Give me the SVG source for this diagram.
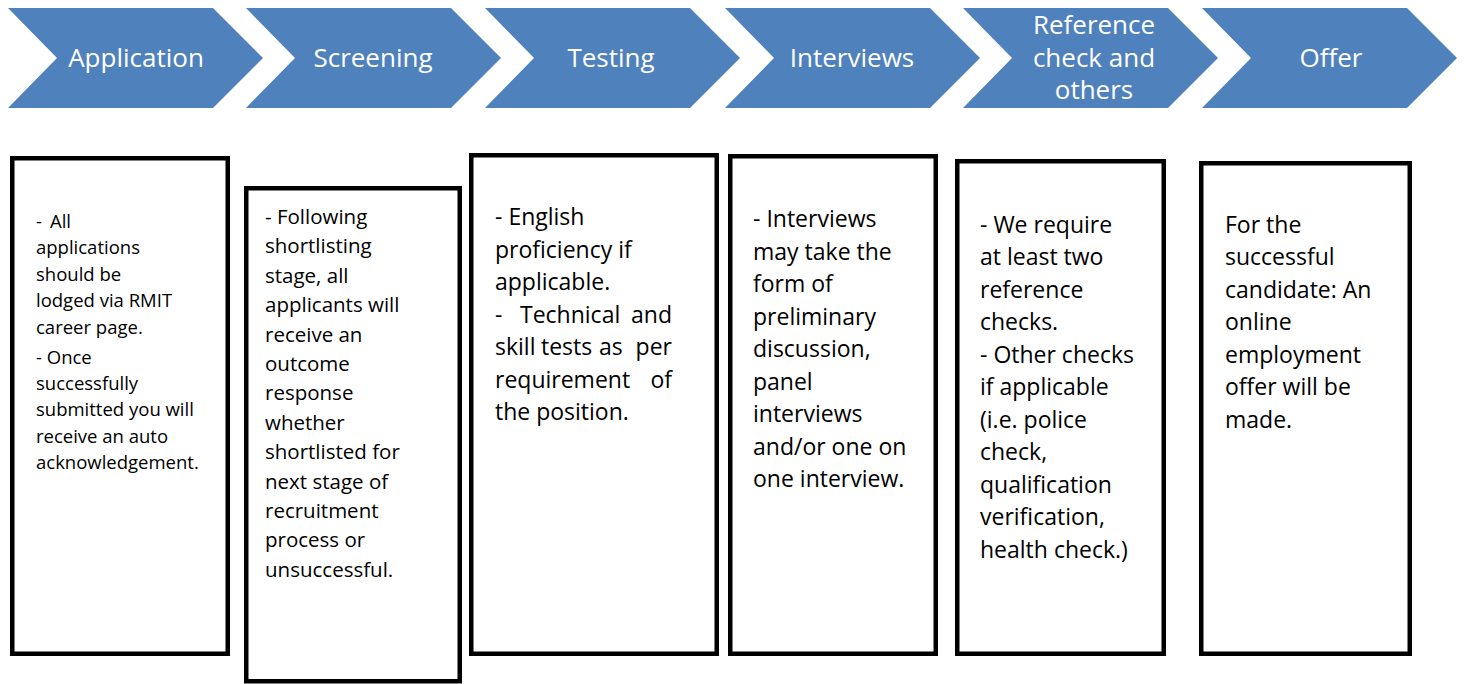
<svg xmlns="http://www.w3.org/2000/svg" width="1465" height="684" viewBox="0 0 1465 684">
<style>
.chev{fill:#4F81BD;}
.ct{font-family:"Open Sans","Liberation Sans",sans-serif;font-size:26px;fill:#ffffff;text-anchor:middle;}
.box{fill:#ffffff;stroke:#000000;stroke-width:4.5;}
.bt{font-family:"Open Sans","Liberation Sans",sans-serif;font-size:23px;fill:#000000;}
.b1{font-size:18.5px;}
.b2{font-size:20.5px;}
</style>
<rect width="1465" height="684" fill="#ffffff"/>
<g id="stage-application">
<path class="chev" d="M8,8 H213 L263,58 L213,108 H8 L57,58 Z"/>
<text class="ct" x="136" y="67">Application</text>
</g>
<g id="stage-screening">
<path class="chev" d="M246,8 H451 L501,58 L451,108 H246 L295,58 Z"/>
<text class="ct" x="373" y="67">Screening</text>
</g>
<g id="stage-testing">
<path class="chev" d="M485,8 H690 L740,58 L690,108 H485 L534,58 Z"/>
<text class="ct" x="611" y="67">Testing</text>
</g>
<g id="stage-interviews">
<path class="chev" d="M725,8 H930 L980,58 L930,108 H725 L774,58 Z"/>
<text class="ct" x="852" y="67">Interviews</text>
</g>
<g id="stage-reference">
<path class="chev" d="M963,8 H1168 L1218,58 L1168,108 H963 L1012,58 Z"/>
<text class="ct" x="1094"><tspan x="1094" y="34">Reference</tspan><tspan x="1094" y="66.5">check and</tspan><tspan x="1094" y="99">others</tspan></text>
</g>
<g id="stage-offer">
<path class="chev" d="M1202,8 H1407 L1457,58 L1407,108 H1202 L1251,58 Z"/>
<text class="ct" x="1331" y="67">Offer</text>
</g>
<g id="connectors"></g>
<g id="box-application">
<rect class="box" x="12.25" y="158.25" width="215.5" height="495.5"/>
<text class="bt b1"><tspan x="36" y="228">-</tspan><tspan x="50" y="228">All</tspan><tspan x="36" y="254.4">applications</tspan><tspan x="36" y="280.8">should be</tspan><tspan x="36" y="307.2">lodged via RMIT</tspan><tspan x="36" y="333.6">career page.</tspan><tspan x="36" y="363.5">- Once</tspan><tspan x="36" y="390">successfully</tspan><tspan x="36" y="416.4">submitted you will</tspan><tspan x="36" y="442.8">receive an auto</tspan><tspan x="36" y="469.2">acknowledgement.</tspan></text>
</g>
<g id="box-screening">
<rect class="box" x="246.25" y="188.25" width="213.5" height="493"/>
<text class="bt b2"><tspan x="265" y="224">- Following</tspan><tspan x="265" y="253.4">shortlisting</tspan><tspan x="265" y="282.8">stage, all</tspan><tspan x="265" y="312.2">applicants will</tspan><tspan x="265" y="341.6">receive an</tspan><tspan x="265" y="371">outcome</tspan><tspan x="265" y="400.4">response</tspan><tspan x="265" y="429.8">whether</tspan><tspan x="265" y="459.2">shortlisted for</tspan><tspan x="265" y="488.6">next stage of</tspan><tspan x="265" y="518">recruitment</tspan><tspan x="265" y="547.4">process or</tspan><tspan x="265" y="576.8">unsuccessful.</tspan></text>
</g>
<g id="box-testing">
<rect class="box" x="471.25" y="155.25" width="245.5" height="498.5"/>
<text class="bt"><tspan x="495" y="225">- English</tspan><tspan x="495" y="257.5">proficiency if</tspan><tspan x="495" y="290">applicable.</tspan><tspan x="495" y="322.5">-</tspan><tspan x="520" y="322.5">Technical</tspan><tspan x="672" y="322.5" text-anchor="end">and</tspan><tspan x="495" y="355">skill</tspan><tspan x="541" y="355">tests</tspan><tspan x="599" y="355">as</tspan><tspan x="672" y="355" text-anchor="end">per</tspan><tspan x="495" y="387.5">requirement</tspan><tspan x="672" y="387.5" text-anchor="end">of</tspan><tspan x="495" y="420">the position.</tspan></text>
</g>
<g id="box-interviews">
<rect class="box" x="730.25" y="156.25" width="205.5" height="497.5"/>
<text class="bt"><tspan x="753" y="227">- Interviews</tspan><tspan x="753" y="259.5">may take the</tspan><tspan x="753" y="292">form of</tspan><tspan x="753" y="324.5">preliminary</tspan><tspan x="753" y="357">discussion,</tspan><tspan x="753" y="389.5">panel</tspan><tspan x="753" y="422">interviews</tspan><tspan x="753" y="454.5">and/or one on</tspan><tspan x="753" y="487">one interview.</tspan></text>
</g>
<g id="box-reference">
<rect class="box" x="957.25" y="161.25" width="206.5" height="492.5"/>
<text class="bt"><tspan x="980" y="232.5">- We require</tspan><tspan x="980" y="265">at least two</tspan><tspan x="980" y="297.5">reference</tspan><tspan x="980" y="330">checks.</tspan><tspan x="980" y="362.5">- Other checks</tspan><tspan x="980" y="395">if applicable</tspan><tspan x="980" y="427.5">(i.e. police</tspan><tspan x="980" y="460">check,</tspan><tspan x="980" y="492.5">qualification</tspan><tspan x="980" y="525">verification,</tspan><tspan x="980" y="557.5">health check.)</tspan></text>
</g>
<g id="box-offer">
<rect class="box" x="1201.25" y="163.25" width="208.5" height="490.5"/>
<text class="bt"><tspan x="1225" y="232.5">For the</tspan><tspan x="1225" y="265">successful</tspan><tspan x="1225" y="297.5">candidate: An</tspan><tspan x="1225" y="330">online</tspan><tspan x="1225" y="362.5">employment</tspan><tspan x="1225" y="395">offer will be</tspan><tspan x="1225" y="427.5">made.</tspan></text>
</g>
</svg>
